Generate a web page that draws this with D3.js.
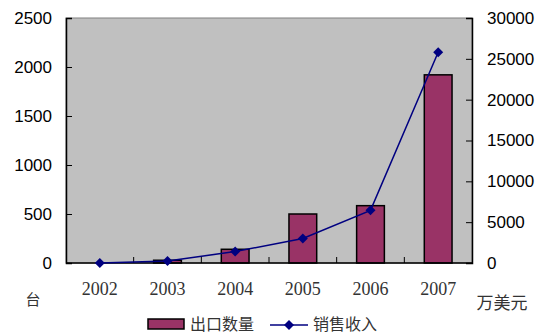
<!DOCTYPE html>
<html>
<head>
<meta charset="utf-8">
<script src="https://cdn.jsdelivr.net/npm/d3@7"></script>
<style>
  html, body { margin: 0; padding: 0; background: #fff; }
  svg { display: block; }
</style>
</head>
<body>
<svg id="chart" width="537" height="334"></svg>
<script>
// Export volume (units) and sales revenue (10k USD) by year
const years = ["2002", "2003", "2004", "2005", "2006", "2007"];
const exportUnits = [0, 28, 140, 500, 585, 1920];
const salesRevenue = [0, 250, 1400, 3000, 6450, 25800];
const leftTicks = [0, 500, 1000, 1500, 2000, 2500];
const rightTicks = [0, 5000, 10000, 15000, 20000, 25000, 30000];

const svg = d3.select("#chart");
const plot = { left: 66, right: 472, top: 18, bottom: 263 };

const x = d3.scaleBand().domain(years).range([plot.left, plot.right]).paddingInner(0.59).paddingOuter(0.295);
const xCenter = d3.scaleBand().domain(years).range([plot.left, plot.right]);
const yL = d3.scaleLinear().domain([0, 2500]).range([plot.bottom, plot.top]);
const yR = d3.scaleLinear().domain([0, 30000]).range([plot.bottom, plot.top]);

const sansFont = "'Liberation Sans', Arial, sans-serif";
const serifFont = "'Liberation Serif', 'Times New Roman', serif";
const cjkFont = "'Noto Sans CJK SC', sans-serif";
const plain = d3.format("d");

// plot background
svg.append("rect")
  .attr("x", plot.left).attr("y", plot.top)
  .attr("width", plot.right - plot.left).attr("height", plot.bottom - plot.top)
  .attr("fill", "#c0c0c0").attr("stroke", "#808080").attr("stroke-width", 1);

// bars
svg.append("g").selectAll("rect").data(years).join("rect")
  .attr("x", d => x(d))
  .attr("width", x.bandwidth())
  .attr("y", (d, i) => yL(exportUnits[i]))
  .attr("height", (d, i) => yL(0) - yL(exportUnits[i]))
  .attr("fill", "#993366").attr("stroke", "#000").attr("stroke-width", 1.5);

// left axis
const axL = svg.append("g").attr("transform", `translate(${plot.left},0)`)
  .call(d3.axisLeft(yL).tickValues(leftTicks).tickFormat(plain).tickSize(-6).tickPadding(14));
axL.select(".domain").attr("stroke", "#000").attr("stroke-width", 1.5);
axL.selectAll(".tick line").attr("stroke", "#000");
axL.selectAll("text").attr("font-family", sansFont).attr("font-size", 17).attr("fill", "#000");

// right axis
const axR = svg.append("g").attr("transform", `translate(${plot.right},0)`)
  .call(d3.axisRight(yR).tickValues(rightTicks).tickFormat(plain).tickSize(-6).tickPadding(15));
axR.select(".domain").attr("stroke", "#000").attr("stroke-width", 1.5);
axR.selectAll(".tick line").attr("stroke", "#000");
axR.selectAll("text").attr("font-family", sansFont).attr("font-size", 17).attr("fill", "#000");

// bottom axis with category dividers
const axB = svg.append("g").attr("transform", `translate(0,${plot.bottom})`);
axB.append("line").attr("x1", plot.left).attr("x2", plot.right)
  .attr("stroke", "#000").attr("stroke-width", 1.5);
axB.selectAll(".div").data(years.slice(1)).join("line")
  .attr("x1", d => xCenter(d)).attr("x2", d => xCenter(d))
  .attr("y1", 0).attr("y2", -6).attr("stroke", "#000");
axB.selectAll("text").data(years).join("text")
  .attr("x", d => xCenter(d) + xCenter.bandwidth() / 2)
  .attr("y", 32)
  .attr("text-anchor", "middle")
  .attr("font-family", serifFont).attr("font-size", 18).attr("fill", "#333")
  .text(d => d);

// revenue line with rotated-square markers
const line = d3.line()
  .x((d, i) => xCenter(years[i]) + xCenter.bandwidth() / 2)
  .y(d => yR(d));
svg.append("path").datum(salesRevenue)
  .attr("d", line).attr("fill", "none").attr("stroke", "#000080").attr("stroke-width", 1.5);
const marker = d3.symbol().type(d3.symbolSquare).size(50);
svg.append("g").selectAll("path").data(salesRevenue).join("path")
  .attr("transform", (d, i) => `translate(${xCenter(years[i]) + xCenter.bandwidth() / 2},${yR(d)}) rotate(45)`)
  .attr("d", marker).attr("fill", "#000080");

// unit labels
svg.append("text").attr("x", 33).attr("y", 305).attr("text-anchor", "middle")
  .attr("font-family", cjkFont).attr("font-size", 15).attr("fill", "#333").text("台");
svg.append("text").attr("x", 502).attr("y", 309).attr("text-anchor", "middle")
  .attr("font-family", cjkFont).attr("font-size", 17).attr("fill", "#333").text("万美元");

// legend
const lg = svg.append("g");
lg.append("rect").attr("x", 148).attr("y", 319).attr("width", 36).attr("height", 10)
  .attr("fill", "#993366").attr("stroke", "#000").attr("stroke-width", 1.5);
lg.append("text").attr("x", 190).attr("y", 330)
  .attr("font-family", cjkFont).attr("font-size", 16).attr("fill", "#333").text("出口数量");
lg.append("line").attr("x1", 270).attr("x2", 308).attr("y1", 325).attr("y2", 325)
  .attr("stroke", "#000080").attr("stroke-width", 1.5);
lg.append("path").attr("transform", "translate(289,325) rotate(45)").attr("d", marker).attr("fill", "#000080");
lg.append("text").attr("x", 313).attr("y", 330)
  .attr("font-family", cjkFont).attr("font-size", 16).attr("fill", "#333").text("销售收入");
</script>
</body>
</html>
